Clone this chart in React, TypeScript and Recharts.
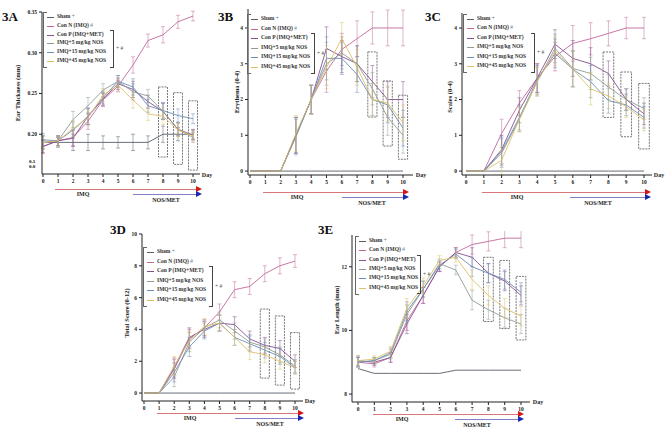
import React from "react";
import {
  LineChart,
  Line,
  XAxis,
  YAxis,
  ErrorBar,
  ReferenceArea,
} from "recharts";

// days 0..10
const days = [0, 1, 2, 3, 4, 5, 6, 7, 8, 9, 10];
const boxDays = [8, 9, 10];

// 3A Ear thickness (mm)
const shamA = [0.19, 0.19, 0.19, 0.19, 0.19, 0.19, 0.19, 0.19, 0.2, 0.2, 0.2];
const conNA = [0.185, 0.192, 0.196, 0.216, 0.242, 0.259, 0.285, 0.315, 0.322, 0.338, 0.345];
const conPA = [0.185, 0.192, 0.195, 0.222, 0.243, 0.262, 0.255, 0.24, 0.228, 0.206, 0.199];
const imq5A = [0.19, 0.192, 0.218, 0.235, 0.254, 0.265, 0.252, 0.247, 0.228, 0.206, 0.196];
const imq15A = [0.193, 0.192, 0.205, 0.222, 0.245, 0.265, 0.258, 0.235, 0.229, 0.223, 0.219];
const imq45A = [0.19, 0.192, 0.207, 0.22, 0.248, 0.26, 0.242, 0.225, 0.222, 0.205, 0.198];
const errA = [0.008, 0.006, 0.01, 0.01, 0.008, 0.007, 0.01, 0.008, 0.01, 0.008, 0.006];
const boxTopA = [0.258, 0.251, 0.241];
const boxBotA = [0.172, 0.163, 0.156];

// 3B Erythema (0-4)
const shamB = [0, 0, 0, 0, 0, 0, 0, 0, 0, 0, 0];
const conNB = [0, 0, 0, 1.0, 2.0, 2.8, 3.4, 3.7, 4, 4, 4];
const conPB = [0, 0, 0, 1.0, 2.0, 3.43, 3.2, 3.0, 2.5, 2.0, 2.0];
const imq5B = [0, 0, 0, 0.95, 2.0, 3.0, 3.3, 3.0, 2.3, 1.5, 1.0];
const imq15B = [0, 0, 0, 1.0, 2.0, 3.15, 3.15, 2.7, 2.0, 1.85, 1.2];
const imq45B = [0, 0, 0, 1.05, 2.0, 2.9, 3.7, 2.9, 2.0, 1.9, 1.35];
const errB = [0, 0, 0, 0.5, 0.4, 0.6, 0.45, 0.5, 0.45, 0.5, 0.5];
const boxTopB = [3.33, 2.52, 2.12];
const boxBotB = [1.51, 0.7, 0.33];

// 3C Scales (0-4)
const shamC = [0, 0, 0, 0, 0, 0, 0, 0, 0, 0, 0];
const conNC = [0, 0, 1.05, 1.9, 2.6, 3.2, 3.57, 3.7, 3.85, 4, 4];
const conPC = [0, 0, 0.6, 1.7, 2.6, 3.55, 3.15, 3.0, 2.73, 2.0, 1.6];
const imq5C = [0, 0, 0.5, 1.45, 2.5, 3.43, 2.87, 2.73, 2.35, 2.0, 1.75];
const imq15C = [0, 0, 0.55, 1.5, 2.55, 3.29, 2.85, 2.5, 1.97, 1.85, 1.5];
const imq45C = [0, 0, 0.3, 1.45, 2.5, 3.35, 2.85, 2.3, 2.1, 1.8, 1.43];
const errC = [0, 0, 0.4, 0.35, 0.4, 0.4, 0.5, 0.45, 0.35, 0.3, 0.3];
const boxTopC = [3.33, 2.77, 2.45];
const boxBotC = [1.5, 0.96, 0.62];

// 3D Total score (0-12)
const shamD = [0, 0, 0, 0, 0, 0, 0, 0, 0, 0, 0];
const conND = [0, 0, 1.5, 3.4, 4.1, 5.1, 6.5, 6.7, 7.5, 8.0, 8.3];
const conPD = [0, 0, 1.6, 3.5, 4.0, 4.4, 4.3, 3.4, 3.0, 2.8, 2.0];
const imq5D = [0, 0, 1.0, 3.2, 4.1, 4.6, 3.9, 3.2, 2.9, 2.4, 1.7];
const imq15D = [0, 0, 1.3, 2.9, 3.9, 4.4, 3.5, 3.1, 2.7, 2.3, 1.6];
const imq45D = [0, 0, 1.7, 3.3, 4.2, 4.4, 3.5, 2.6, 2.4, 2.0, 1.6];
const errD = [0, 0, 0.6, 0.6, 0.5, 0.5, 0.5, 0.5, 0.5, 0.5, 0.4];
const boxTopD = [5.28, 4.85, 3.8];
const boxBotD = [0.94, 0.5, 0.25];

// 3E Ear length (mm)
const shamE = [8.8, 8.65, 8.65, 8.65, 8.65, 8.65, 8.75, 8.75, 8.75, 8.75, 8.75];
const conNE = [9.0, 8.95, 9.15, 10.3, 11.1, 12.0, 12.45, 12.7, 12.8, 12.9, 12.9];
const conPE = [9.05, 9.0, 9.15, 10.2, 11.1, 12.0, 12.45, 12.3, 11.8, 11.55, 11.1];
const imq5E = [9.0, 9.05, 9.25, 10.5, 11.3, 12.1, 11.9, 10.95, 10.65, 10.4, 10.2];
const imq15E = [9.0, 9.05, 9.3, 10.6, 11.3, 12.05, 12.4, 12.0, 11.8, 11.6, 11.2];
const imq45E = [9.05, 9.1, 9.35, 10.7, 11.4, 12.2, 12.3, 11.6, 11.1, 10.7, 10.45];
const errE = [0.15, 0.1, 0.15, 0.3, 0.25, 0.15, 0.15, 0.3, 0.3, 0.3, 0.3];
const boxTopE = [12.3, 12.2, 11.7];
const boxBotE = [10.28, 10.06, 9.7];

const seriesKeys = ["sham", "conN", "conP", "imq5", "imq15", "imq45"];
const seriesNames = [
  "Sham",
  "Con N (IMQ)",
  "Con P (IMQ+MET)",
  "IMQ+5 mg/kg NOS",
  "IMQ+15 mg/kg NOS",
  "IMQ+45 mg/kg NOS",
];
const colors: Record<string, string> = {
  sham: "#565c68",
  conN: "#c2679c",
  conP: "#84508e",
  imq5: "#8c9c94",
  imq15: "#6c8cb8",
  imq45: "#dcc066",
};

const FONT = "'Liberation Serif', 'DejaVu Serif', serif";

function buildRows(series: number[][], err: number[], shamErr: boolean) {
  return days.map((d, i) => {
    const row: any = { day: d, err: err[i], shamErr: shamErr ? err[i] : 0 };
    seriesKeys.forEach((k, j) => (row[k] = series[j][i]));
    return row;
  });
}

const YW = 30;
const MT = 4;
const MR = 2;
const XH = 14;

type PanelProps = {
  rows: any[];
  yDomain: [number, number];
  yTicks: number[];
  fmt?: (v: number) => string;
  axisX: number;
  day0: number;
  day10: number;
  axisRight: number;
  top: number;
  bottom: number;
  boxTop: number[];
  boxBot: number[];
  shamErr?: boolean;
};

const Panel: React.FC<PanelProps> = (p) => {
  const width = p.axisRight - p.axisX + YW + MR;
  const height = p.bottom - p.top + MT + XH;
  const tickStyle = { fontSize: 5.5, fill: "#222", fontFamily: FONT, fontWeight: "bold" };
  return (
    <div style={{ position: "absolute", left: p.axisX - YW, top: p.top - MT }}>
      <LineChart
        width={width}
        height={height}
        data={p.rows}
        margin={{ top: MT, right: MR, left: 0, bottom: 0 }}
      >
        <XAxis
          dataKey="day"
          type="number"
          domain={[0, 10]}
          ticks={days}
          interval={0}
          padding={{ left: p.day0 - p.axisX, right: p.axisRight - p.day10 }}
          tickSize={3}
          height={XH}
          stroke="#222"
          tick={tickStyle}
        />
        <YAxis
          type="number"
          domain={p.yDomain}
          ticks={p.yTicks}
          allowDataOverflow
          tickFormatter={p.fmt}
          width={YW}
          tickSize={3}
          stroke="#222"
          tick={tickStyle}
        />
        {boxDays.map((d, i) => (
          <ReferenceArea
            key={d}
            x1={d - 0.3}
            x2={d + 0.3}
            y1={p.boxBot[i]}
            y2={p.boxTop[i]}
            fill="none"
            stroke="#555"
            strokeWidth={0.8}
            strokeDasharray="2 1"
            ifOverflow="visible"
          />
        ))}
        {seriesKeys.map((k) => (
          <Line
            key={k}
            dataKey={k}
            type="linear"
            stroke={colors[k]}
            strokeWidth={0.9}
            dot={false}
            isAnimationActive={false}
          >
            {(k !== "sham" || p.shamErr) && (
              <ErrorBar
                dataKey={k === "sham" ? "shamErr" : "err"}
                width={2}
                stroke={colors[k]}
                strokeWidth={0.5}
              />
            )}
          </Line>
        ))}
      </LineChart>
    </div>
  );
};

const Legend: React.FC<{ left: number; top: number; gap: number; right: number }> = ({
  left,
  top,
  gap,
  right,
}) => {
  const last = top + gap * 5;
  return (
    <div style={{ position: "absolute", left: 0, top: 0 }}>
      <div
        style={{
          position: "absolute",
          left,
          top: top - 5,
          width: 3,
          height: last - top + 10,
          borderLeft: "1px solid #666",
          borderTop: "1px solid #666",
          borderBottom: "1px solid #666",
        }}
      />
      <div
        style={{
          position: "absolute",
          left: right - 3,
          top: top + gap * 2 - 5,
          width: 3,
          height: gap * 3 + 10,
          borderRight: "1px solid #444",
          borderTop: "1px solid #444",
          borderBottom: "1px solid #444",
        }}
      />
      <div
        style={{
          position: "absolute",
          left: right + 3,
          top: top + gap * 3.3,
          fontSize: 5.5,
          fontFamily: FONT,
          color: "#555",
          lineHeight: 1,
          whiteSpace: "nowrap",
        }}
      >
        + #
      </div>
      {seriesKeys.map((k, i) => (
        <React.Fragment key={k}>
          <div
            style={{
              position: "absolute",
              left: left + 4,
              top: top + gap * i,
              width: 7,
              height: 1,
              background: colors[k],
            }}
          />
          <div
            style={{
              position: "absolute",
              left: left + 14,
              top: top + gap * i - 3,
              fontSize: 5.5,
              lineHeight: 1,
              fontFamily: FONT,
              fontWeight: "bold",
              color: "#333",
              whiteSpace: "nowrap",
            }}
          >
            {seriesNames[i]}
            {i === 0 && <span style={{ fontWeight: "normal", color: "#777" }}>{"  +"}</span>}
            {i === 1 && <span style={{ fontWeight: "normal", color: "#777" }}>{"  #"}</span>}
          </div>
        </React.Fragment>
      ))}
    </div>
  );
};

const Arrow: React.FC<{ x1: number; x2: number; y: number; line: string; head: string }> = ({
  x1,
  x2,
  y,
  line,
  head,
}) => (
  <>
    <div
      style={{ position: "absolute", left: x1, top: y - 0.5, width: x2 - x1, height: 1.2, background: line }}
    />
    <div
      style={{
        position: "absolute",
        left: x2,
        top: y - 3,
        width: 0,
        height: 0,
        borderTop: "3px solid transparent",
        borderBottom: "3px solid transparent",
        borderLeft: `6px solid ${head}`,
      }}
    />
  </>
);

const Txt: React.FC<{ x: number; y: number; size?: number; rot?: boolean; children: React.ReactNode }> = ({
  x,
  y,
  size = 6,
  rot,
  children,
}) => (
  <div
    style={{
      position: "absolute",
      left: x,
      top: y,
      transform: rot ? "translate(-50%, -50%) rotate(-90deg)" : "translate(-50%, -50%)",
      fontSize: size,
      fontFamily: FONT,
      fontWeight: "bold",
      color: "#222",
      whiteSpace: "nowrap",
      lineHeight: 1,
    }}
  >
    {children}
  </div>
);

const Bottom: React.FC<{
  redX: number;
  blueX: number;
  endX: number;
  y: number;
  imqX: number;
  nosX: number;
  dayX: number;
  axisY: number;
}> = ({ redX, blueX, endX, y, imqX, nosX, dayX, axisY }) => (
  <>
    <Arrow x1={redX} x2={endX} y={y} line="#d9767a" head="#d01818" />
    <Arrow x1={blueX} x2={endX} y={y + 5} line="#8080c8" head="#1828b0" />
    <Txt x={imqX} y={y + 5}>IMQ</Txt>
    <Txt x={nosX} y={y + 11}>NOS/MET</Txt>
    <Txt x={dayX} y={axisY}>Day</Txt>
  </>
);

const Label: React.FC<{ x: number; y: number; text: string }> = ({ x, y, text }) => (
  <div
    style={{
      position: "absolute",
      left: x,
      top: y,
      fontSize: 13,
      fontFamily: FONT,
      fontWeight: "bold",
      lineHeight: 1,
      color: "#111",
    }}
  >
    {text}
  </div>
);

export default function App() {
  const rowsA = buildRows([shamA, conNA, conPA, imq5A, imq15A, imq45A], errA, true);
  const rowsB = buildRows([shamB, conNB, conPB, imq5B, imq15B, imq45B], errB, false);
  const rowsC = buildRows([shamC, conNC, conPC, imq5C, imq15C, imq45C], errC, false);
  const rowsD = buildRows([shamD, conND, conPD, imq5D, imq15D, imq45D], errD, false);
  const rowsE = buildRows([shamE, conNE, conPE, imq5E, imq15E, imq45E], errE, false);

  return (
    <div
      style={{
        position: "fixed",
        left: 0,
        top: 0,
        width: 672,
        height: 433,
        background: "#fff",
        overflow: "hidden",
      }}
    >
      {/* 3A */}
      <Label x={2} y={10} text="3A" />
      <Panel
        rows={rowsA}
        yDomain={[0.1512, 0.35]}
        yTicks={[0.2, 0.25, 0.3, 0.35]}
        fmt={(v) => v.toFixed(2)}
        axisX={42}
        day0={43}
        day10={193}
        axisRight={200}
        top={12}
        bottom={174}
        boxTop={boxTopA}
        boxBot={boxBotA}
        shamErr
      />
      <div
        style={{ position: "absolute", left: 29, top: 159, fontSize: 5, fontFamily: FONT, lineHeight: 1, fontWeight: "bold" }}
      >
        0.1
        <br />
        0.0
      </div>
      <Txt x={18} y={93} size={6.5} rot>
        Ear Thickness (mm)
      </Txt>
      <Legend left={43} top={17} gap={8.8} right={113} />
      <Bottom redX={55} blueX={133} endX={196} y={189} imqX={83} nosX={166} dayX={207} axisY={175} />

      {/* 3B */}
      <Label x={218} y={10} text="3B" />
      <Panel
        rows={rowsB}
        yDomain={[-0.11, 4.53]}
        yTicks={[0, 1, 2, 3, 4]}
        axisX={248}
        day0={250}
        day10={403}
        axisRight={413}
        top={9}
        bottom={175}
        boxTop={boxTopB}
        boxBot={boxBotB}
      />
      <Txt x={237} y={92} size={6.5} rot>
        Erythema (0-4)
      </Txt>
      <Legend left={247} top={19} gap={9.6} right={314} />
      <Bottom redX={263} blueX={342} endX={403} y={192} imqX={297} nosX={372} dayX={421} axisY={175} />

      {/* 3C */}
      <Label x={425} y={10} text="3C" />
      <Panel
        rows={rowsC}
        yDomain={[-0.11, 4.42]}
        yTicks={[0, 1, 2, 3, 4]}
        axisX={462}
        day0={466}
        day10={644}
        axisRight={652}
        top={13}
        bottom={175}
        boxTop={boxTopC}
        boxBot={boxBotC}
      />
      <Txt x={450} y={97} size={6.5} rot>
        Scales (0-4)
      </Txt>
      <Legend left={463} top={19} gap={9.4} right={534} />
      <Bottom redX={482} blueX={570} endX={645} y={192} imqX={517} nosX={598} dayX={659} axisY={175} />

      {/* 3D */}
      <Label x={110} y={223} text="3D" />
      <Panel
        rows={rowsD}
        yDomain={[-0.5, 10]}
        yTicks={[0, 2, 4, 6, 8, 10]}
        axisX={142}
        day0={144}
        day10={295}
        axisRight={303}
        top={234}
        bottom={401}
        boxTop={boxTopD}
        boxBot={boxBotD}
      />
      <Txt x={127} y={313} size={6.5} rot>
        Total Score (0-12)
      </Txt>
      <Legend left={143} top={252} gap={9.6} right={212} />
      <Bottom redX={157} blueX={235} endX={298} y={413} imqX={190} nosX={270} dayX={310} axisY={401} />

      {/* 3E */}
      <Label x={318} y={223} text="3E" />
      <Panel
        rows={rowsE}
        yDomain={[7.75, 13.0]}
        yTicks={[8, 10, 12]}
        axisX={352}
        day0={358}
        day10={521}
        axisRight={530}
        top={235}
        bottom={402}
        boxTop={boxTopE}
        boxBot={boxBotE}
      />
      <Txt x={337} y={310} size={6.5} rot>
        Ear Length (mm)
      </Txt>
      <Legend left={355} top={241} gap={9.3} right={420} />
      <Bottom redX={373} blueX={455} endX={518} y={414} imqX={402} nosX={477} dayX={538} axisY={402} />
    </div>
  );
}
